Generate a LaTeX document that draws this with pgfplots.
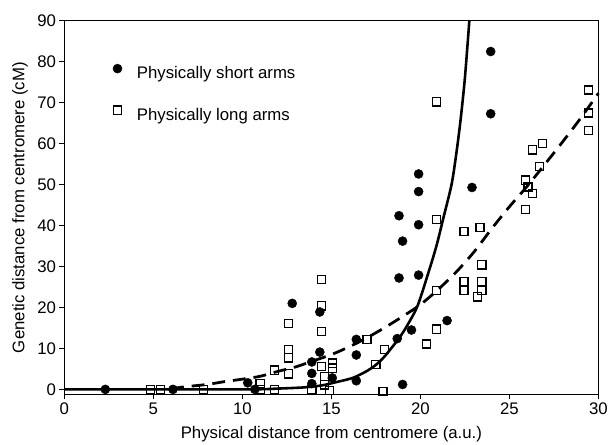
\documentclass[border=0pt]{standalone}
\usepackage{fontspec}
\setmainfont{Liberation Sans}
\usepackage{pgfplots}
\pgfplotsset{compat=1.18}

\begin{document}
\begin{tikzpicture}
\begin{axis}[
    scale only axis,
    width=539bp, height=377bp,
    xmin=0, xmax=30,
    ymin=-1.2, ymax=90,
    xtick={0,5,...,30},
    ytick={0,10,...,90},
    tick pos=left,
    tick align=outside,
    major tick length=5bp,
    axis line style={line width=1.2bp},
    every tick/.style={black, line width=1bp},
    /pgf/number format/assume math mode=true,
    tick label style={font=\fontsize{17}{20}\selectfont},
    label style={font=\fontsize{17}{20}\selectfont},
    xlabel={Physical distance from centromere (a.u.)},
    ylabel={Genetic distance from centromere (cM)},
    x label style={at={(axis description cs:0.5,-0.106)}, anchor=center},
    y label style={at={(axis description cs:-0.083,0.5)}, anchor=center},
    clip=false,
    legend cell align=left,
    legend image code/.code={%
        \draw[mark repeat=2, mark phase=2, #1]
            plot coordinates {(0cm,5bp) (0.3cm,5bp) (0.6cm,5bp)};},
    legend style={at={(axis description cs:0.085,0.89)}, anchor=north west,
        draw=none, fill=none, row sep=24bp, column sep=13bp,
        font=\fontsize{17}{20}\selectfont},
]
% physically short arms
\addplot[only marks, mark=*, mark size=4.6bp, black] coordinates {
(2.3,0) (6.1,0) (10.3,1.6) (10.7,0) (12.8,21.0)
(13.9,6.7) (13.9,3.9) (13.9,1.4) (14.35,9.1) (14.35,18.9)
(15.05,2.8) (16.4,12.2) (16.4,8.4) (16.4,2.1)
(18.8,42.4) (18.7,12.4) (19.0,36.2) (18.8,27.2) (19.0,1.2)
(19.5,14.5) (19.9,52.6) (19.9,48.3) (19.9,40.2) (19.9,27.9)
(21.5,16.8) (22.9,49.3) (23.95,82.5) (23.95,67.3)
};
\addlegendentry{Physically short arms}
% physically long arms
\addplot[only marks, mark=square, mark size=4.1bp, black, mark options={line width=1.3bp, fill=white}] coordinates {
(4.85,0) (5.4,0) (7.8,0)
(11.0,0) (11.0,1.5) (11.8,0) (11.8,4.7)
(12.6,3.8) (12.6,7.7) (12.6,9.7) (12.6,16.1)
(13.9,0)
(14.45,26.8) (14.45,20.4) (14.45,14.2) (14.45,5.6) (14.6,3.1) (14.6,1.1) (14.9,-0.3)
(15.05,6.4) (15.05,5.2)
(17.0,12.2) (17.5,6.1) (17.9,-0.5) (18.0,9.7)
(20.35,11.1) (20.9,14.7) (20.9,24.2) (20.9,41.5) (20.9,70.2)
(22.45,38.6) (22.45,26.3) (22.45,24.1)
(23.2,22.6) (23.35,39.6) (23.45,30.4) (23.45,26.4) (23.45,24.1)
(25.9,43.9) (25.9,51.1) (26.05,49.4) (26.3,47.8) (26.3,58.5) (26.7,54.4) (26.85,60.1)
(29.45,73.1) (29.45,67.5) (29.45,63.2)
};
\addlegendentry{Physically long arms}
% fitted curve, short arms
\addplot[black, line width=2.6bp, smooth, forget plot] coordinates {
(0,0) (10,0) (12,0.2) (13.5,0.5) (14.5,1.0) (15.2,1.7) (16.2,2.8)
(17,4.5) (17.5,6.0) (18,8.1) (18.8,12.5) (19.3,15.9) (19.85,20.5)
(20.45,28.5) (20.9,35) (21.3,42) (21.75,50) (22.0,57) (22.25,65.5)
(22.5,76) (22.75,90)
};
% fitted curve, long arms
\addplot[black, line width=2.8bp, smooth, dash pattern=on 13bp off 8bp, forget plot] coordinates {
(6,0) (6.5,0.5) (8,1.2) (9,1.9) (10,2.5) (11,3.2) (12,4.4) (13,5.5)
(14,7) (15,8.5) (16,10.4) (17,12.6) (18,15.1) (19,17.8) (20,20.7)
(21,24.4) (22,28.6) (23,33.5) (24,39.2) (25,44.6) (26,49.6)
(27,55) (28,60.5) (29,66.2) (30,72.3)
};
\end{axis}
\useasboundingbox ([shift={(-65bp,-49bp)}]current axis.south west)
    rectangle ([shift={(7bp,21bp)}]current axis.north east);
\end{tikzpicture}
\end{document}
